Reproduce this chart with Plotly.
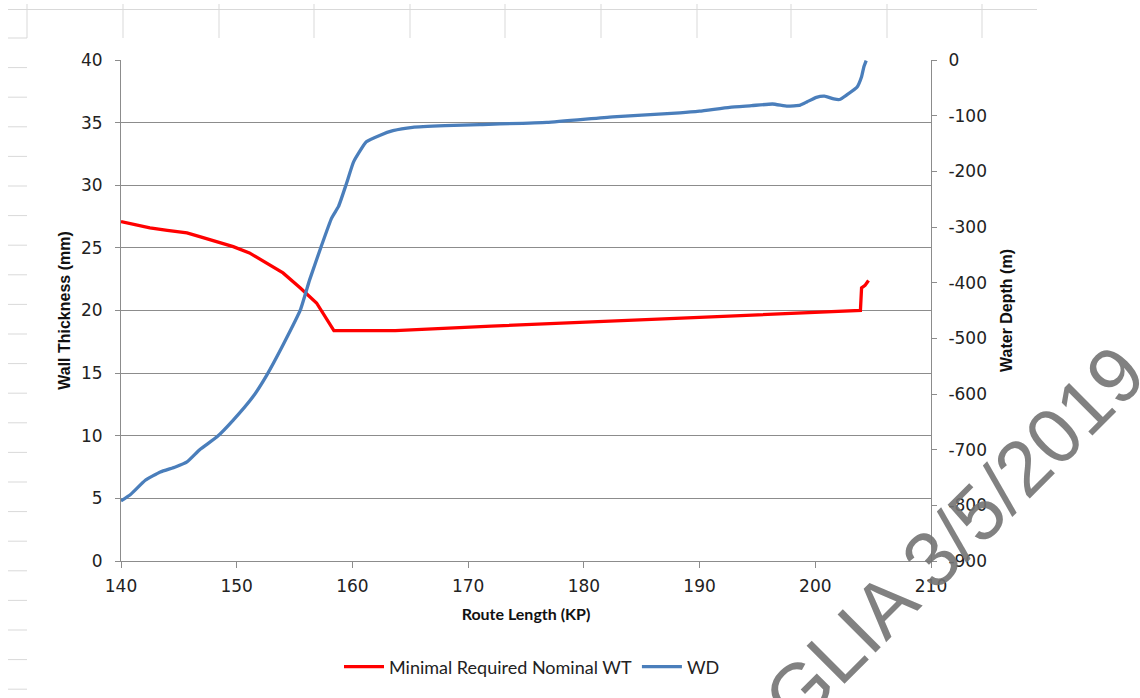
import plotly.graph_objects as go

# Minimal required nominal wall thickness along the route (left axis, mm)
wt_kp = [140.0, 141.0, 142.5, 144.0, 145.7, 146.8, 148.3, 149.7, 151.1, 152.6,
         154.0, 155.5, 156.9, 158.4, 163.7, 172.0, 181.9, 190.0, 203.9,
         204.0, 204.3, 204.6]
wt_mm = [27.1, 26.9, 26.6, 26.4, 26.2, 25.9, 25.5, 25.1, 24.6, 23.8,
         23.0, 21.8, 20.6, 18.4, 18.4, 18.75, 19.1, 19.45, 20.0,
         21.8, 22.0, 22.4]

# Water depth along the route (right axis, m)
wd_kp = [140.0, 140.8, 142.1, 143.4, 144.7, 145.7, 146.8, 148.3, 149.7, 151.4,
         152.6, 154.0, 155.5, 156.3, 157.3, 158.2, 158.8, 159.5, 160.1, 161.2,
         162.4, 163.5, 165.2, 168.0, 171.0, 176.8, 182.5, 188.3, 190.0, 192.6,
         194.5, 196.3, 197.6, 198.7, 199.3, 200.1, 200.8, 201.6, 202.1, 202.7,
         203.6, 204.0, 204.2, 204.4]
wd_m = [-792, -781, -755, -740, -731, -722, -700, -677, -647, -605,
        -566, -512, -449, -395, -335, -284, -263, -221, -183, -147,
        -135, -127, -121, -118, -116, -112, -102, -95, -92, -85,
        -82, -79, -83, -81, -75, -67, -65, -70, -71, -63,
        -49, -30, -12, -1]

x_ticks = [140, 150, 160, 170, 180, 190, 200, 210]
left_ticks = [0, 5, 10, 15, 20, 25, 30, 35, 40]
right_ticks = [0, -100, -200, -300, -400, -500, -600, -700, -800, -900]
right_labels = [str(v) for v in right_ticks]  # plain hyphen minus sign

W, H = 1140, 698
L, R, T, B = 121, 931, 60, 561


def px(x):
    return (x - L) / (R - L)


def py(y):
    return (B - y) / (B - T)


fig = go.Figure()
fig.add_trace(go.Scatter(
    x=wt_kp, y=wt_mm, mode="lines", name="Minimal Required Nominal WT",
    line=dict(color="#FF0000", width=3.3), yaxis="y"))
fig.add_trace(go.Scatter(
    x=wd_kp, y=wd_m, mode="lines", name="WD",
    line=dict(color="#4A7EBB", width=3.3, shape="spline", smoothing=0.4), yaxis="y2"))

axis_grey = "#8C8C8C"
tick_font = dict(family="DejaVu Sans", size=17, color="#222222")
title_font = dict(family="Liberation Sans", size=16, color="#111111")

fig.update_layout(
    width=W, height=H,
    margin=dict(l=L, r=W - R, t=T, b=H - B, pad=0),
    paper_bgcolor="white", plot_bgcolor="white",
    showlegend=True,
    legend=dict(orientation="h", x=px(532), xanchor="center", y=py(667), yanchor="middle",
                font=dict(family="Lato", size=18, color="#222222"),
                itemwidth=40, traceorder="normal"),
    xaxis=dict(range=[140, 210], tickvals=x_ticks, ticks="outside", ticklen=6,
               tickcolor=axis_grey, showline=True, linecolor=axis_grey, linewidth=1,
               showgrid=False, zeroline=False, tickfont=tick_font, ticklabelstandoff=4,
               title=dict(text="<b>Route Length (KP)</b>",
                          font=dict(family="Lato", size=16, color="#111111"),
                          standoff=13)),
    yaxis=dict(range=[0, 40], tickvals=left_ticks, ticks="outside", ticklen=5,
               tickcolor=axis_grey, showline=True, linecolor=axis_grey, linewidth=1,
               showgrid=True, gridcolor=axis_grey, gridwidth=1, zeroline=False,
               tickfont=tick_font, ticklabelstandoff=9,
               title=dict(text="<b>Wall Thickness (mm)</b>", font=title_font, standoff=6)),
    yaxis2=dict(range=[-900, 0], tickvals=right_ticks, ticktext=right_labels,
                overlaying="y", side="right",
                ticks="outside", ticklen=5, tickcolor=axis_grey, showline=True,
                linecolor=axis_grey, linewidth=1, showgrid=False, zeroline=False,
                tickfont=tick_font, ticklabelstandoff=8,
                title=dict(text="<b>Water Depth (m)</b>", font=title_font, standoff=14)),
)

# Spreadsheet cell borders around the embedded chart
cell = "#D9D9D9"
shapes = [dict(type="line", xref="paper", yref="paper", x0=px(8), x1=px(1037),
               y0=py(9.5), y1=py(9.5), line=dict(color=cell, width=1))]
for vx in [27, 123, 219, 314, 410, 505, 601, 697, 791, 887, 982]:
    shapes.append(dict(type="line", xref="paper", yref="paper", x0=px(vx), x1=px(vx),
                       y0=py(4), y1=py(38), line=dict(color=cell, width=1)))
row = 38.0
while row < H:
    shapes.append(dict(type="line", xref="paper", yref="paper", x0=px(8), x1=px(27),
                       y0=py(row), y1=py(row), line=dict(color=cell, width=1)))
    row += 29.6
fig.update_layout(shapes=shapes)

# Diagonal watermark stamp
fig.add_annotation(text="GLIA 3/5/2019", xref="paper", yref="paper",
                   x=px(954), y=py(536), xanchor="center", yanchor="middle",
                   textangle=-45, showarrow=False,
                   font=dict(family="Liberation Sans", size=78,
                             color="rgba(115,115,115,0.9)"))

fig.write_html("out.html")
